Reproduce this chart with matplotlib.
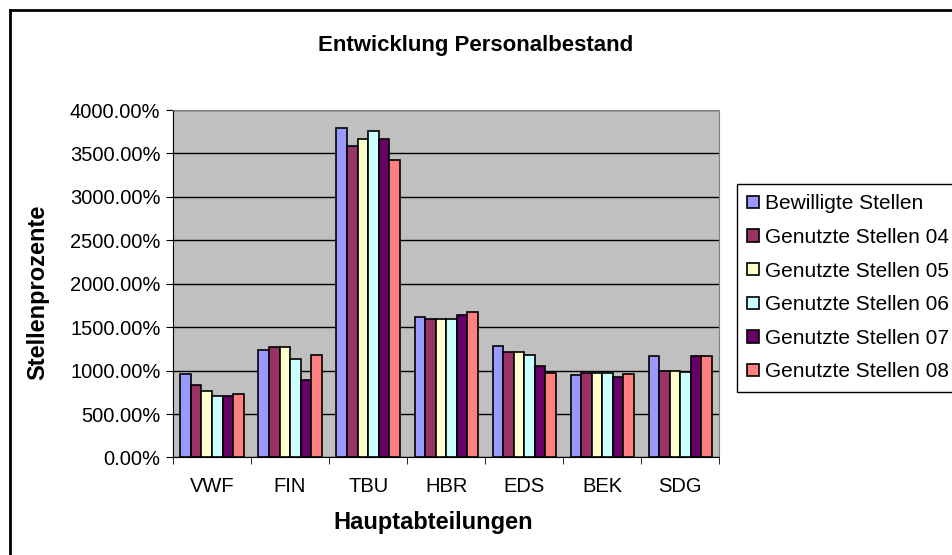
import matplotlib.pyplot as plt
import numpy as np
from matplotlib.lines import Line2D
from matplotlib.ticker import FuncFormatter

plt.rcParams['font.family'] = ['Liberation Sans', 'DejaVu Sans']

categories = ['VWF', 'FIN', 'TBU', 'HBR', 'EDS', 'BEK', 'SDG']
series_names = ['Bewilligte Stellen', 'Genutzte Stellen 04', 'Genutzte Stellen 05',
                'Genutzte Stellen 06', 'Genutzte Stellen 07', 'Genutzte Stellen 08']
bewilligt = [962, 1235, 3796, 1619, 1288, 947, 1166]
genutzt_04 = [835, 1270, 3581, 1596, 1215, 977, 1000]
genutzt_05 = [763, 1270, 3669, 1596, 1215, 977, 995]
genutzt_06 = [708, 1131, 3762, 1596, 1177, 977, 980]
genutzt_07 = [708, 893, 3669, 1638, 1054, 931, 1166]
genutzt_08 = [728, 1181, 3419, 1676, 977, 962, 1166]
colors = ['#9999FF', '#993366', '#FFFFCC', '#CCFFFF', '#660066', '#FF8080']

all_series = [bewilligt, genutzt_04, genutzt_05, genutzt_06, genutzt_07, genutzt_08]

fig = plt.figure(figsize=(9.52, 5.55), dpi=100)
ax = fig.add_axes([0.1817, 0.1757, 0.5739, 0.6261])
ax.set_facecolor('#C0C0C0')

x = np.arange(len(categories))
w = 0.135
for i, (vals, name, col) in enumerate(zip(all_series, series_names, colors)):
    ax.bar(x + (i - 2.5) * w, vals, width=w, color=col, edgecolor='black',
           linewidth=1.2, label=name, zorder=3)

ax.set_xlim(-0.5, len(categories) - 0.5)
ax.set_ylim(0, 4000)
ax.set_yticks(np.arange(0, 4001, 500))
ax.yaxis.set_major_formatter(FuncFormatter(lambda v, p: f'{v:.2f}%'))
ax.set_xticks(x)
ax.set_xticklabels(categories)
ax.set_xticks(np.arange(-0.5, len(categories), 1), minor=True)
ax.tick_params(axis='x', which='major', length=0, pad=14, labelsize=14.5)
ax.tick_params(axis='x', which='minor', length=5, direction='out')
ax.tick_params(axis='y', length=5, direction='out', pad=4, labelsize=14.5)
ax.grid(axis='y', color='black', linewidth=1, zorder=1)
ax.set_axisbelow(True)
for s in ['top', 'right']:
    ax.spines[s].set_color('#808080')
for s in ['left', 'bottom']:
    ax.spines[s].set_color('black')

ax.set_xlabel('Hauptabteilungen', fontsize=17, fontweight='bold', va='center')
ax.set_ylabel('Stellenprozente', fontsize=17, fontweight='bold', va='center')
ax.xaxis.set_label_coords(0.476, -0.188)
ax.yaxis.set_label_coords(-0.247, 0.476)
fig.text(0.5, 1 - 45 / 555, 'Entwicklung Personalbestand', ha='center', va='center',
         fontsize=16, fontweight='bold')

leg = ax.legend(loc='upper left', bbox_to_anchor=(737 / 952, 1 - 184 / 555),
                bbox_transform=fig.transFigure, fontsize=15, frameon=True,
                fancybox=False, edgecolor='black', framealpha=1,
                handlelength=0.55, handleheight=0.55, handletextpad=0.3,
                labelspacing=0.7, borderpad=0.5, borderaxespad=0)
leg.get_frame().set_linewidth(1)

# chart border (cut off at right and bottom)
fig.add_artist(Line2D([9.5 / 952, 9.5 / 952], [0, 1 - 10 / 555], transform=fig.transFigure,
                      color='black', linewidth=2))
fig.add_artist(Line2D([9.5 / 952, 1], [1 - 10 / 555, 1 - 10 / 555], transform=fig.transFigure,
                      color='black', linewidth=2))

fig.savefig('out.png', dpi=100)
